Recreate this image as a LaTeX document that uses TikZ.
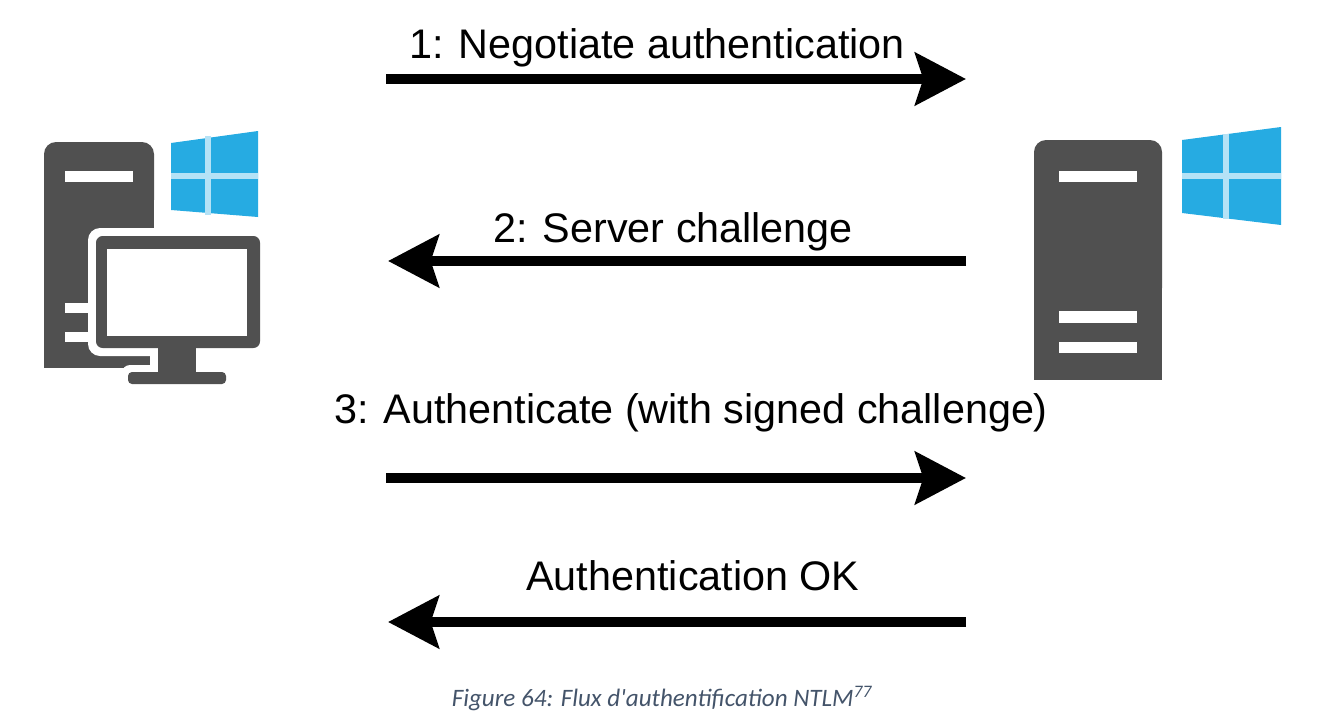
\documentclass[tikz,border=0pt]{standalone}
\usepackage{fontspec}
\setmainfont{Liberation Sans}
\newfontfamily\capfont{Carlito}
\usetikzlibrary{arrows.meta}
\definecolor{icongray}{HTML}{505050}
\definecolor{winblue}{HTML}{26ABE2}
\definecolor{winline}{HTML}{B4E2F6}
\definecolor{capblue}{HTML}{44546A}
\tikzset{
  msg/.style={line width=7.8pt, -{Stealth[length=38pt, width=39pt, inset=6pt]}},
  lbl/.style={font=\fontsize{31}{34}\selectfont, inner sep=0pt, anchor=base},
  icon/.style={fill=icongray},
  slot/.style={fill=white},
  win/.style={fill=winblue},
  winbar/.style={draw=winline, line width=3.8pt},
}
\begin{document}
\begin{tikzpicture}[x=0.75pt, y=-0.75pt]
  \useasboundingbox (0,0) rectangle (1319,721);

  % client
  \fill[icon, rounded corners=9pt] (44,300) -- (44,142) -- (154,142) -- (154,300) -- cycle;
  \fill[icon] (44,280) rectangle (154,368);
  \fill[slot, rounded corners=9pt] (88,228) rectangle (290,356);
  \fill[slot] (150,340) rectangle (204,376);
  \fill[slot, rounded corners=6pt] (122,365) rectangle (240,392);
  \fill[slot] (154,200) rectangle (290,228);
  \fill[slot] (65,171) rectangle (133,182);
  \fill[slot] (65,303) rectangle (88,313);
  \fill[slot] (65,332) rectangle (88,342);
  \fill[icon, rounded corners=5pt] (96,236) rectangle (260,348);
  \fill[slot] (107,249) rectangle (247,336);
  \fill[icon] (158,346) rectangle (196,374);
  \fill[icon, rounded corners=3pt] (128,372) rectangle (226,384);
  % client logo
  \fill[win] (171,143) -- (258,131) -- (258,217) -- (171,210) -- cycle;
  \draw[winbar] (208,136) -- (208,215);
  \draw[winbar] (171,176) -- (258,176);

  % server
  \fill[icon, rounded corners=9pt] (1034,300) -- (1034,140) -- (1162,140) -- (1162,300) -- cycle;
  \fill[icon] (1034,280) rectangle (1162,380);
  \fill[slot] (1059,171) rectangle (1137,182);
  \fill[slot] (1059,311) rectangle (1137,323);
  \fill[slot] (1059,342) rectangle (1137,353);
  % server logo
  \fill[win] (1182,140) -- (1281,127) -- (1281,225) -- (1182,213) -- cycle;
  \draw[winbar] (1226,134) -- (1226,219);
  \draw[winbar] (1182,176) -- (1281,176);

  % ends of the arrows
  \coordinate (c1) at (386,79);  \coordinate (s1) at (966,79);
  \coordinate (c2) at (388,261); \coordinate (s2) at (966,261);
  \coordinate (c3) at (386,478); \coordinate (s3) at (966,478);
  \coordinate (c4) at (388,622); \coordinate (s4) at (966,622);

  \draw[msg] (c1) -- (s1);
  \draw[msg] (s2) -- (c2);
  \draw[msg] (c3) -- (s3);
  \draw[msg] (s4) -- (c4);

  \node (negotiate)[lbl] at (657,58) {1: Negotiate authentication};
  \node (challenge)[lbl] at (673,242) {2: Server challenge};
  \node (authenticate)[lbl] at (691,423) {3: Authenticate (with signed challenge)};
  \node (authok)[lbl] at (693,590) {Authentication OK};

  \node (caption)[font=\capfont\itshape\fontsize{18.8}{22}\selectfont, text=capblue, inner sep=0pt, anchor=base] at (662,706)
    {Figure 64: Flux d'authentification NTLM\textsuperscript{77}};
\end{tikzpicture}
\end{document}
